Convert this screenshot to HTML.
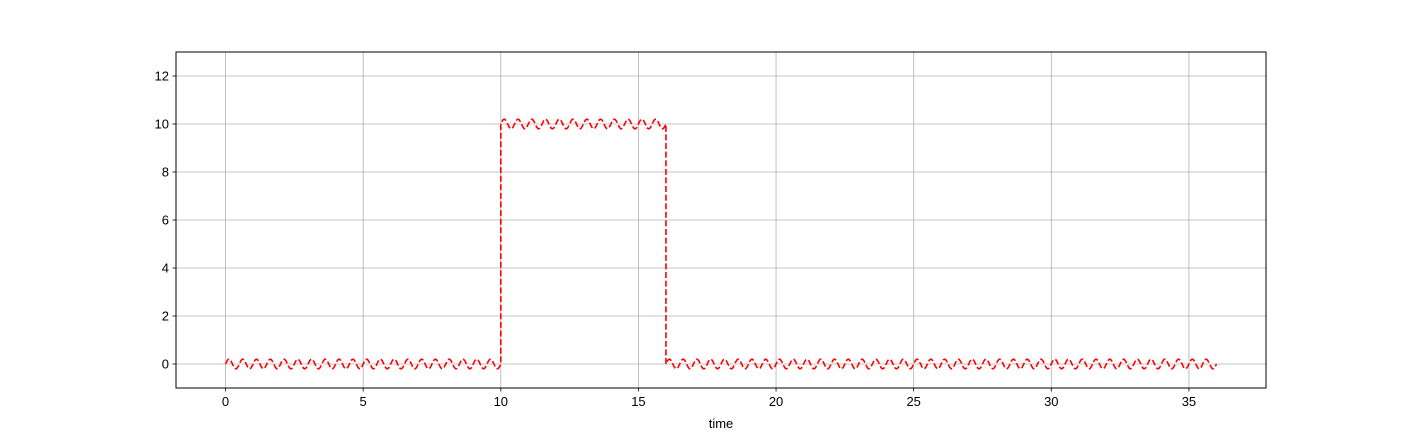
<!DOCTYPE html>
<html><head><meta charset="utf-8"><style>
body{margin:0;background:#fff;}
svg text{font-family:"Liberation Sans","DejaVu Sans",sans-serif;font-size:13px;fill:#000;}
</style></head><body>
<svg id="chart" width="1407" height="436" xmlns="http://www.w3.org/2000/svg">
<rect x="0" y="0" width="1407" height="436" fill="#fff"/>
<g id="grid"></g>
<g id="ticks"></g>
<path id="signal" fill="none" stroke="#ff0000" stroke-width="1.6" stroke-dasharray="6,2.6"/>
<rect x="176" y="52" width="1090" height="336" fill="none" stroke="#000" stroke-width="1"/>
<text x="721" y="428" text-anchor="middle">time</text>
</svg>
<script>
const xTicks=[0,5,10,15,20,25,30,35];
const yTicks=[0,2,4,6,8,10,12];
const segStarts=[0,10,16];
const segEnds=[10,16,36];
const segLevels=[0,10,0];
const rippleAmp=[0.2];
const ripplePeriod=[0.5];
const X0=176,X1=1266,Y0=388,Y1=52,xmin=-1.8,xmax=37.8,ymin=-1,ymax=13;
const sx=t=>X0+(t-xmin)/(xmax-xmin)*(X1-X0);
const sy=v=>Y0-(v-ymin)/(ymax-ymin)*(Y0-Y1);
const NS="http://www.w3.org/2000/svg";
const grid=document.getElementById('grid'),ticks=document.getElementById('ticks');
function mk(p,tag,a){const e=document.createElementNS(NS,tag);for(const k in a)e.setAttribute(k,a[k]);p.appendChild(e);return e;}
xTicks.forEach(t=>{const x=sx(t);
 const g=mk(grid,'line',{x1:x,x2:x,y1:Y1,y2:Y0,stroke:'#b0b0b0','stroke-width':0.8});
 
 
 const tk=mk(ticks,'line',{x1:x,x2:x,y1:Y0,y2:Y0+3.5,stroke:'#000','stroke-width':0.8});
 
 
 const l=mk(ticks,'text',{x:x,y:Y0+18,'text-anchor':'middle'});l.textContent=t;
 
 
});
yTicks.forEach(v=>{const y=sy(v);
 const g=mk(grid,'line',{x1:X0,x2:X1,y1:y,y2:y,stroke:'#b0b0b0','stroke-width':0.8});
 
 
 const tk=mk(ticks,'line',{x1:X0-3.5,x2:X0,y1:y,y2:y,stroke:'#000','stroke-width':0.8});
 
 
 const l=mk(ticks,'text',{x:X0-7,y:y+4.5,'text-anchor':'end'});l.textContent=v;
 
 
});
let d='';
segStarts.forEach((s,i)=>{
 const e=segEnds[i],lv=segLevels[i],n=Math.round((e-s)/0.02);
 for(let k=0;k<=n;k++){const t=s+(e-s)*k/n;
  const v=lv+rippleAmp[0]*Math.sin(2*Math.PI*t/ripplePeriod[0]);
  d+=(d?'L':'M')+sx(t).toFixed(2)+','+sy(v).toFixed(2);}
});
document.getElementById('signal').setAttribute('d',d);
</script>
</body></html>
